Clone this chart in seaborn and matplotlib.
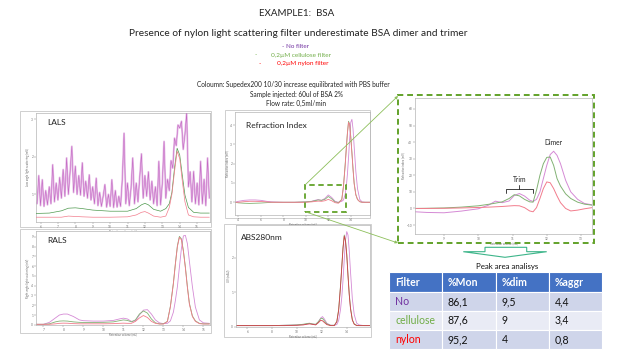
import matplotlib
matplotlib.use('Agg')
import matplotlib.pyplot as plt
import seaborn as sns
from matplotlib.patches import Rectangle, Polygon, FancyArrowPatch

sns.set_theme(style='white')
plt.rcParams['font.family'] = ['Lato', 'DejaVu Sans']

# ---------------- DATA ----------------
series_names = ['No filter', 'cellulose', 'nylon']

# LALS (noisy no-filter trace)
lals_x_nf = [5.8, 5.9, 6.0, 6.1, 6.2, 6.3, 6.4, 6.5, 6.6, 6.7, 6.8, 6.9, 7.0,
             7.1, 7.2, 7.3, 7.4, 7.5, 7.6, 7.7, 7.8, 7.9, 8.0, 8.1, 8.2, 8.3, 8.4, 8.5, 8.6, 8.7, 8.8, 8.9, 9.0,
             9.1, 9.2, 9.3, 9.4, 9.5, 9.6, 9.7, 9.8, 9.9, 10.0, 10.1, 10.2, 10.3, 10.4, 10.5,
             10.6, 10.7, 10.8, 10.9, 11.0, 11.1, 11.2, 11.3, 11.4, 11.5, 11.6, 11.7, 11.8, 11.9, 12.0,
             12.1, 12.2, 12.3, 12.4, 12.5, 12.6, 12.7, 12.8, 12.9, 13.0,
             13.1, 13.2, 13.3, 13.4, 13.5, 13.6, 13.7, 13.8, 13.9, 14.0, 14.1, 14.2, 14.3,
             14.4, 14.5, 14.6, 14.7, 14.8, 14.9, 15.0, 15.1, 15.2, 15.3, 15.4, 15.5, 15.6, 15.7]
lals_nofilter = [0.75, 1.5, 0.7, 1.39, 0.68, 1.1, 0.72, 1.2, 0.75, 1.79, 0.8, 1.3, 0.85,
                 1.45, 0.9, 1.66, 0.95, 1.97, 1.0, 1.6, 2.28, 1.05, 1.75, 1.0, 1.5, 0.98, 1.84, 0.95, 1.35, 0.9, 1.52, 0.85, 1.2,
                 0.75, 1.43, 0.7, 1.05, 0.68, 0.95, 1.26, 0.66, 1.0, 0.68, 1.39, 0.65, 1.1, 0.66, 0.95,
                 0.68, 1.4, 2.63, 0.75, 1.3, 0.7, 1.15, 1.97, 0.75, 1.3, 0.8, 1.45, 2.08, 0.9, 1.5,
                 0.95, 1.6, 0.85, 1.35, 0.75, 1.2, 0.7, 1.88, 0.72, 1.3,
                 2.41, 0.9, 1.4, 1.1, 1.9, 1.7, 2.5, 2.3, 2.85, 2.77, 2.95, 2.2, 2.6,
                 3.17, 1.2, 1.6, 0.8, 1.61, 0.75, 1.3, 0.72, 1.88, 0.75, 1.4, 0.7, 1.97, 0.9]
lals_x = [5.75, 6.5, 7.2, 7.6, 8.0, 8.4, 9.0, 10.0, 11.0, 11.5, 11.8, 12.0, 12.2, 12.5, 12.9,
          13.2, 13.4, 13.55, 13.7, 13.85, 14.0, 14.15, 14.3, 14.5, 14.8, 15.2, 15.7]
lals_cellulose = [0.49, 0.5, 0.56, 0.63, 0.64, 0.62, 0.58, 0.55, 0.55, 0.62, 0.72, 0.76, 0.72, 0.6, 0.55,
                  0.62, 0.75, 1.05, 1.7, 2.23, 2.05, 1.5, 0.98, 0.65, 0.52, 0.5, 0.5]
lals_nylon = [0.39, 0.39, 0.39, 0.42, 0.41, 0.4, 0.39, 0.39, 0.4, 0.45, 0.52, 0.54, 0.5, 0.42, 0.39,
              0.42, 0.65, 1.0, 1.6, 2.15, 1.95, 1.35, 0.8, 0.45, 0.4, 0.39, 0.39]

# RALS
rals_x = [6.6, 7.0, 7.3, 7.6, 7.8, 8.0, 8.2, 8.5, 8.8, 9.0, 9.5, 10.0, 10.5, 10.8, 11.0, 11.2, 11.4,
          11.6, 11.8, 12.0, 12.2, 12.4, 12.6, 12.8, 13.0, 13.2, 13.35, 13.5, 13.6, 13.7, 13.8, 13.9,
          14.0, 14.1, 14.2, 14.3, 14.45, 14.6, 14.8, 15.0, 15.3]
rals_nofilter = [0.05, 0.05, 0.25, 0.7, 1.0, 1.1, 1.1, 0.85, 0.5, 0.42, 0.38, 0.38, 0.45, 0.6, 0.68, 0.6, 0.35,
                 0.4, 1.0, 1.5, 1.55, 1.1, 0.5, 0.2, 0.12, 0.15, 0.4, 1.3, 2.5, 3.9, 5.9, 7.8,
                 9.1, 9.15, 8.3, 6.5, 3.9, 1.8, 0.5, 0.2, 0.15]
rals_cellulose = [0.05, 0.05, 0.1, 0.3, 0.38, 0.4, 0.38, 0.3, 0.25, 0.24, 0.24, 0.25, 0.3, 0.42, 0.5, 0.45, 0.3,
                  0.5, 1.1, 1.42, 1.2, 0.6, 0.2, 0.1, 0.1, 0.35, 1.9, 4.3, 6.3, 8.1, 9.05, 8.8,
                  7.6, 5.9, 3.9, 2.2, 0.9, 0.4, 0.15, 0.1, 0.1]
rals_nylon = [0.05, 0.05, 0.05, 0.1, 0.15, 0.17, 0.16, 0.12, 0.1, 0.1, 0.1, 0.1, 0.12, 0.15, 0.17, 0.15, 0.15,
              0.35, 0.7, 0.95, 0.75, 0.35, 0.15, 0.08, 0.08, 0.33, 1.85, 4.2, 6.2, 8.0, 8.95, 8.7,
              7.5, 5.8, 3.8, 2.1, 0.85, 0.35, 0.12, 0.08, 0.08]

# Refraction index
ri_x = [3.7, 4.0, 4.5, 5.0, 5.5, 6.0, 6.5, 7.0, 8.0, 9.0, 10.0, 10.5, 10.8, 11.1, 11.4, 11.7, 12.0,
        12.3, 12.6, 12.9, 13.2, 13.35, 13.5, 13.6, 13.7, 13.8, 13.9, 14.0, 14.1, 14.2, 14.3, 14.45,
        14.6, 14.8, 15.0, 15.3, 15.7]
ri_nofilter = [0.0, 0.05, 0.1, 0.12, 0.12, 0.1, 0.05, 0.02, 0.0, 0.0, 0.02, 0.05, 0.1, 0.14, 0.1, 0.2, 0.38,
               0.25, 0.05, 0.0, 0.05, 0.12, 0.4, 0.8, 1.45, 2.3, 3.3, 4.15, 4.3, 3.8, 2.9, 1.6,
               0.7, 0.15, 0.02, 0.0, 0.0]
ri_cellulose = [0.0, -0.03, -0.05, -0.06, -0.05, -0.04, -0.02, 0.0, 0.0, 0.0, 0.02, 0.04, 0.08, 0.12, 0.1, 0.15, 0.3,
                0.18, 0.02, -0.02, 0.15, 0.85, 1.95, 2.8, 3.6, 4.2, 4.05, 3.4, 2.6, 1.75, 1.0, 0.4,
                0.15, 0.03, 0.0, 0.0, 0.0]
ri_nylon = [0.0, 0.0, 0.03, 0.05, 0.05, 0.04, 0.02, 0.0, 0.0, 0.0, 0.0, 0.02, 0.04, 0.06, 0.05, 0.08, 0.15,
            0.08, -0.02, -0.05, 0.13, 0.8, 1.9, 2.75, 3.55, 4.15, 4.0, 3.35, 2.55, 1.7, 0.95, 0.38,
            0.14, 0.03, 0.0, 0.0, 0.0]

# ABS280nm
abs_x = [5.1, 6.0, 7.0, 8.0, 9.0, 10.0, 10.5, 10.8, 11.0, 11.2, 11.5, 11.7, 11.9, 12.05, 12.2, 12.4, 12.7,
         13.0, 13.2, 13.35, 13.5, 13.6, 13.7, 13.8, 13.9, 14.0, 14.1, 14.2, 14.3, 14.45, 14.6, 14.8,
         15.0, 15.4, 15.85]
abs_nofilter = [0.03, 0.03, 0.03, 0.03, 0.04, 0.05, 0.06, 0.08, 0.09, 0.08, 0.06, 0.12, 0.25, 0.29, 0.22, 0.1, 0.04,
                0.04, 0.06, 0.18, 0.5, 0.85, 1.35, 1.95, 2.5, 2.75, 2.65, 2.2, 1.6, 0.8, 0.35, 0.1,
                0.05, 0.03, 0.03]
abs_cellulose = [0.03, 0.03, 0.03, 0.03, 0.04, 0.05, 0.07, 0.09, 0.1, 0.08, 0.07, 0.14, 0.23, 0.24, 0.17, 0.08, 0.04,
                 0.04, 0.15, 0.5, 1.2, 1.75, 2.3, 2.65, 2.5, 2.1, 1.5, 0.95, 0.55, 0.2, 0.08, 0.04,
                 0.03, 0.03, 0.03]
abs_nylon = [0.03, 0.03, 0.03, 0.03, 0.03, 0.04, 0.05, 0.07, 0.08, 0.07, 0.05, 0.11, 0.18, 0.17, 0.12, 0.06, 0.03,
             0.03, 0.14, 0.48, 1.17, 1.72, 2.27, 2.62, 2.47, 2.07, 1.47, 0.92, 0.52, 0.19, 0.07, 0.03,
             0.03, 0.03, 0.03]

# Zoomed RI region
zoom_x = [8.15, 8.5, 9.0, 9.5, 10.0, 10.3, 10.5, 10.7, 10.9, 11.05, 11.2, 11.35, 11.5, 11.6, 11.7, 11.8,
          11.9, 12.0, 12.1, 12.2, 12.3, 12.4, 12.55, 12.7, 12.9, 13.1, 13.32]
zoom_nofilter = [-2.0, -2.4, -2.6, -1.6, -0.2, 2.0, 4.4, 3.5, 4.5, 7.8, 9.0, 7.5, 5.0, 4.2, 5.5, 10.0,
                 18.0, 26.0, 32.5, 34.5, 32.0, 27.0, 17.0, 10.0, 5.5, 3.0, 2.2]
zoom_cellulose = [0.0, 0.1, 0.3, 0.8, 1.6, 2.5, 3.2, 4.0, 6.0, 8.3, 7.6, 5.5, 4.0, 3.8, 11.0, 20.0,
                  27.0, 30.8, 31.0, 26.0, 18.0, 13.5, 8.8, 6.0, 3.8, 2.6, 2.0]
zoom_nylon = [0.0, 0.0, 0.1, 0.3, 0.6, 0.8, 1.0, 1.2, 1.5, 1.7, 1.6, 0.5, -1.5, -2.0, 0.5, 6.0,
              12.0, 16.0, 15.5, 12.0, 7.5, 3.5, 0.0, -1.5, -1.0, -0.2, 0.5]

# Peak area table
table_header = ['Filter', '%Mon', '%dim', '%aggr']
table_filters = ['No', 'cellulose', 'nylon']
table_mon = ['86,1', '87,6', '95,2']
table_dim = ['9,5', '9', '4']
table_aggr = ['4,4', '3,4', '0,8']

# ---------------- STYLE ----------------
C_NF = '#d58ad5'
C_CE = '#82b274'
C_NY = '#f27c8c'
GREEN = '#62a22a'

W, H = 640, 360
fig = plt.figure(figsize=(6.4, 3.6), dpi=100)
fig.patch.set_facecolor('white')


def fx(x):
    return x / W


def fy(y):
    return 1 - y / H


def add_ax(l, t, r, b):
    return fig.add_axes([l / W, 1 - b / H, (r - l) / W, (b - t) / H])


def frame(l, t, r, b, color='#c8c8c8', lw=0.6, ls='-', zorder=0):
    fig.add_artist(Rectangle((fx(l), fy(b)), (r - l) / W, (b - t) / H, transform=fig.transFigure,
                             fill=False, edgecolor=color, lw=lw, linestyle=ls, zorder=zorder))


def style(ax, xlim, ylim, xticks, yticks, xlabel, ylabel):
    ax.set_xlim(xlim)
    ax.set_ylim(ylim)
    ax.set_xticks(xticks)
    ax.set_yticks(yticks)
    ax.tick_params(labelsize=2.3, length=1.2, width=0.3, pad=0.8, colors='#777777',
                   bottom=True, left=True)
    for s in ax.spines.values():
        s.set_color('#b5b5b5')
        s.set_linewidth(0.5)
    ax.set_xlabel(xlabel, fontsize=2.0, labelpad=0.6, color='#666666')
    ax.set_ylabel(ylabel, fontsize=2.0, labelpad=0.8, color='#666666')
    ax.set_facecolor('white')


def line(ax, x, y, color, lw=0.7, z=2):
    sns.lineplot(x=x, y=y, ax=ax, color=color, lw=lw, sort=False, estimator=None,
                 legend=False, zorder=z)


# ---------------- TEXTS ----------------
fig.text(fx(297), fy(14), 'EXAMPLE1:  BSA', ha='center', va='center', fontsize=7.0, color='#222222')
fig.text(fx(298), fy(33), 'Presence of nylon light scattering filter underestimate BSA dimer and trimer',
         ha='center', va='center', fontsize=7.3, color='#222222')
fig.text(fx(296), fy(46), '- No filter', ha='center', va='center', fontsize=4.5, color='#7030A0')
fig.text(fx(256), fy(55), '-', ha='center', va='center', fontsize=4.5, color='#70AD47')
fig.text(fx(301), fy(55), '0,2µM cellulose filter', ha='center', va='center', fontsize=4.6, color='#70AD47')
fig.text(fx(260), fy(64), '-', ha='center', va='center', fontsize=4.5, color='#FF0000')
fig.text(fx(303), fy(64), '0,2µM nylon filter', ha='center', va='center', fontsize=4.6, color='#FF0000')
fig.text(fx(293), fy(85), 'Coloumn: Supedex200 10/30 increase equilibrated with PBS buffer',
         ha='center', va='center', fontsize=4.7, color='#222222')
fig.text(fx(296), fy(94), 'Sample injected: 60ul of BSA 2%', ha='center', va='center', fontsize=4.7, color='#222222')
fig.text(fx(296), fy(103), 'Flow rate: 0,5ml/min', ha='center', va='center', fontsize=4.7, color='#222222')

# ---------------- LALS ----------------
frame(20, 111, 211, 227)
ax = add_ax(36, 113, 210, 222)
line(ax, lals_x_nf, lals_nofilter, '#e6bce6', lw=1.4, z=2)
line(ax, lals_x_nf, lals_nofilter, '#c060c0', lw=0.35, z=3)
line(ax, lals_x, lals_cellulose, '#4f9a4f', lw=0.5, z=4)
line(ax, lals_x, lals_nylon, C_NY, lw=0.5, z=4)
style(ax, (5.74, 15.74), (0.262, 3.17), [6, 7, 8, 9, 10, 11, 12, 13, 14, 15], [1, 2, 3],
      'Retention volume (mL)', 'Low angle light scattering (mV)')
ax.text(0.065, 0.91, 'LALS', transform=ax.transAxes, fontsize=6, color='#222222', va='center')

# ---------------- RALS ----------------
frame(20, 229, 211, 333)
ax = add_ax(36, 231, 210, 325)
line(ax, rals_x, rals_nofilter, C_NF, lw=0.6)
line(ax, rals_x, rals_cellulose, C_CE, lw=0.6)
line(ax, rals_x, rals_nylon, C_NY, lw=0.6)
style(ax, (6.63, 15.33), (-0.02, 9.6), [7, 8, 9, 10, 11, 12, 13, 14, 15], list(range(10)),
      'Retention volume (mL)', 'Right angle light scattering (mV)')
ax.text(0.065, 0.9, 'RALS', transform=ax.transAxes, fontsize=6, color='#222222', va='center')

# ---------------- RI ----------------
frame(225, 110, 370, 218)
ax = add_ax(235, 112, 370, 215)
line(ax, ri_x, ri_nofilter, C_NF, lw=0.6)
line(ax, ri_x, ri_cellulose, C_CE, lw=0.6)
line(ax, ri_x, ri_nylon, C_NY, lw=0.6)
style(ax, (3.7, 15.71), (-0.66, 4.68), [4, 6, 8, 10, 12, 14], [0, 1, 2, 3, 4],
      'Retention volume (mL)', 'Refractive index (mV)')
ax.text(0.085, 0.87, 'Refraction Index', transform=ax.transAxes, fontsize=6, color='#222222', va='center')

# ---------------- ABS ----------------
frame(224, 224, 371, 337)
ax = add_ax(236, 225, 370, 327)
line(ax, abs_x, abs_nofilter, C_NF, lw=0.6)
line(ax, abs_x, abs_cellulose, C_CE, lw=0.6)
line(ax, abs_x, abs_nylon, '#d0404a', lw=0.6)
style(ax, (5.09, 15.87), (-0.01, 2.94), [6, 8, 10, 12, 14], [0, 1, 2],
      'Retention volume (mL)', 'UV (mAU)')
ax.text(0.035, 0.88, 'ABS280nm', transform=ax.transAxes, fontsize=6, color='#222222', va='center')

# ---------------- ZOOM ----------------
ax = add_ax(415, 98, 592, 234)
line(ax, zoom_x, zoom_nofilter, C_NF, lw=0.7)
line(ax, zoom_x, zoom_cellulose, C_CE, lw=0.7)
line(ax, zoom_x, zoom_nylon, C_NY, lw=0.7)
style(ax, (8.153, 13.32), (-15.4, 66.6), [9, 10, 11, 12, 13], [-10, 0, 10, 20, 30, 40, 50, 60],
      'Retention volume (mL)', 'Refractive index (mV)')
ax.text(12.18, 39.6, 'Dimer', ha='center', va='center', fontsize=4.8, color='#222222')
ax.text(11.2, 17.2, 'Trim', ha='center', va='center', fontsize=4.8, color='#222222')
ax.plot([10.81, 10.81, 11.61, 11.61], [9.6, 11.6, 11.6, 9.6], color='#222222', lw=0.6)
ax.plot([11.2, 11.2], [11.6, 14.0], color='#222222', lw=0.6)

frame(398, 95, 594, 243, color=GREEN, lw=1.4, ls=(0, (3, 2)), zorder=5)
frame(305, 185, 346, 212, color=GREEN, lw=1.3, ls=(0, (3, 2)), zorder=5)

for (xa, ya), (xb, yb) in [((305, 185), (398, 96)), ((306, 212), (398, 243))]:
    fig.add_artist(FancyArrowPatch((fx(xa), fy(ya)), (fx(xb), fy(yb)), transform=fig.transFigure,
                                   arrowstyle='-|>', mutation_scale=4, color='#8cbf5a', lw=0.6,
                                   shrinkA=0, shrinkB=0, zorder=6))

# block arrow under zoom box
arrow_pts = [(485, 247.3), (526.7, 247.3), (526.7, 251.7), (546.7, 251.7), (505, 257.3),
             (463.3, 251.7), (485, 251.7)]
fig.add_artist(Polygon([(fx(a), fy(b)) for a, b in arrow_pts], closed=True, transform=fig.transFigure,
                       facecolor='white', edgecolor='#3db58a', lw=0.8, zorder=6))

fig.text(fx(507), fy(266), 'Peak area analisys', ha='center', va='center', fontsize=5.7, color='#111111')

# ---------------- TABLE ----------------
cols = [389, 442, 496, 549, 602]
rows = [272, 292.3, 310.7, 330, 349]
row_fill = ['#4472C4', '#CFD5EA', '#E9EBF5', '#CFD5EA']
name_colors = ['#7030A0', '#70AD47', '#FF0000']
cells = [table_header] + [[table_filters[i], table_mon[i], table_dim[i], table_aggr[i]] for i in range(3)]
for r in range(4):
    for c in range(4):
        l, rr = cols[c], cols[c + 1]
        t, b = rows[r], rows[r + 1]
        fig.add_artist(Rectangle((fx(l), fy(b)), (rr - l) / W, (b - t) / H, transform=fig.transFigure,
                                 facecolor=row_fill[r], edgecolor='white', lw=0.8, zorder=3))
        if r == 0:
            color, weight = 'white', 'bold'
        elif c == 0:
            color, weight = name_colors[r - 1], 'normal'
        else:
            color, weight = '#111111', 'normal'
        fig.text(fx(l + 6), fy((t + b) / 2), cells[r][c], ha='left', va='center', fontsize=7.6,
                 color=color, weight=weight, zorder=4)

fig.savefig('out.png', dpi=100, facecolor='white')
